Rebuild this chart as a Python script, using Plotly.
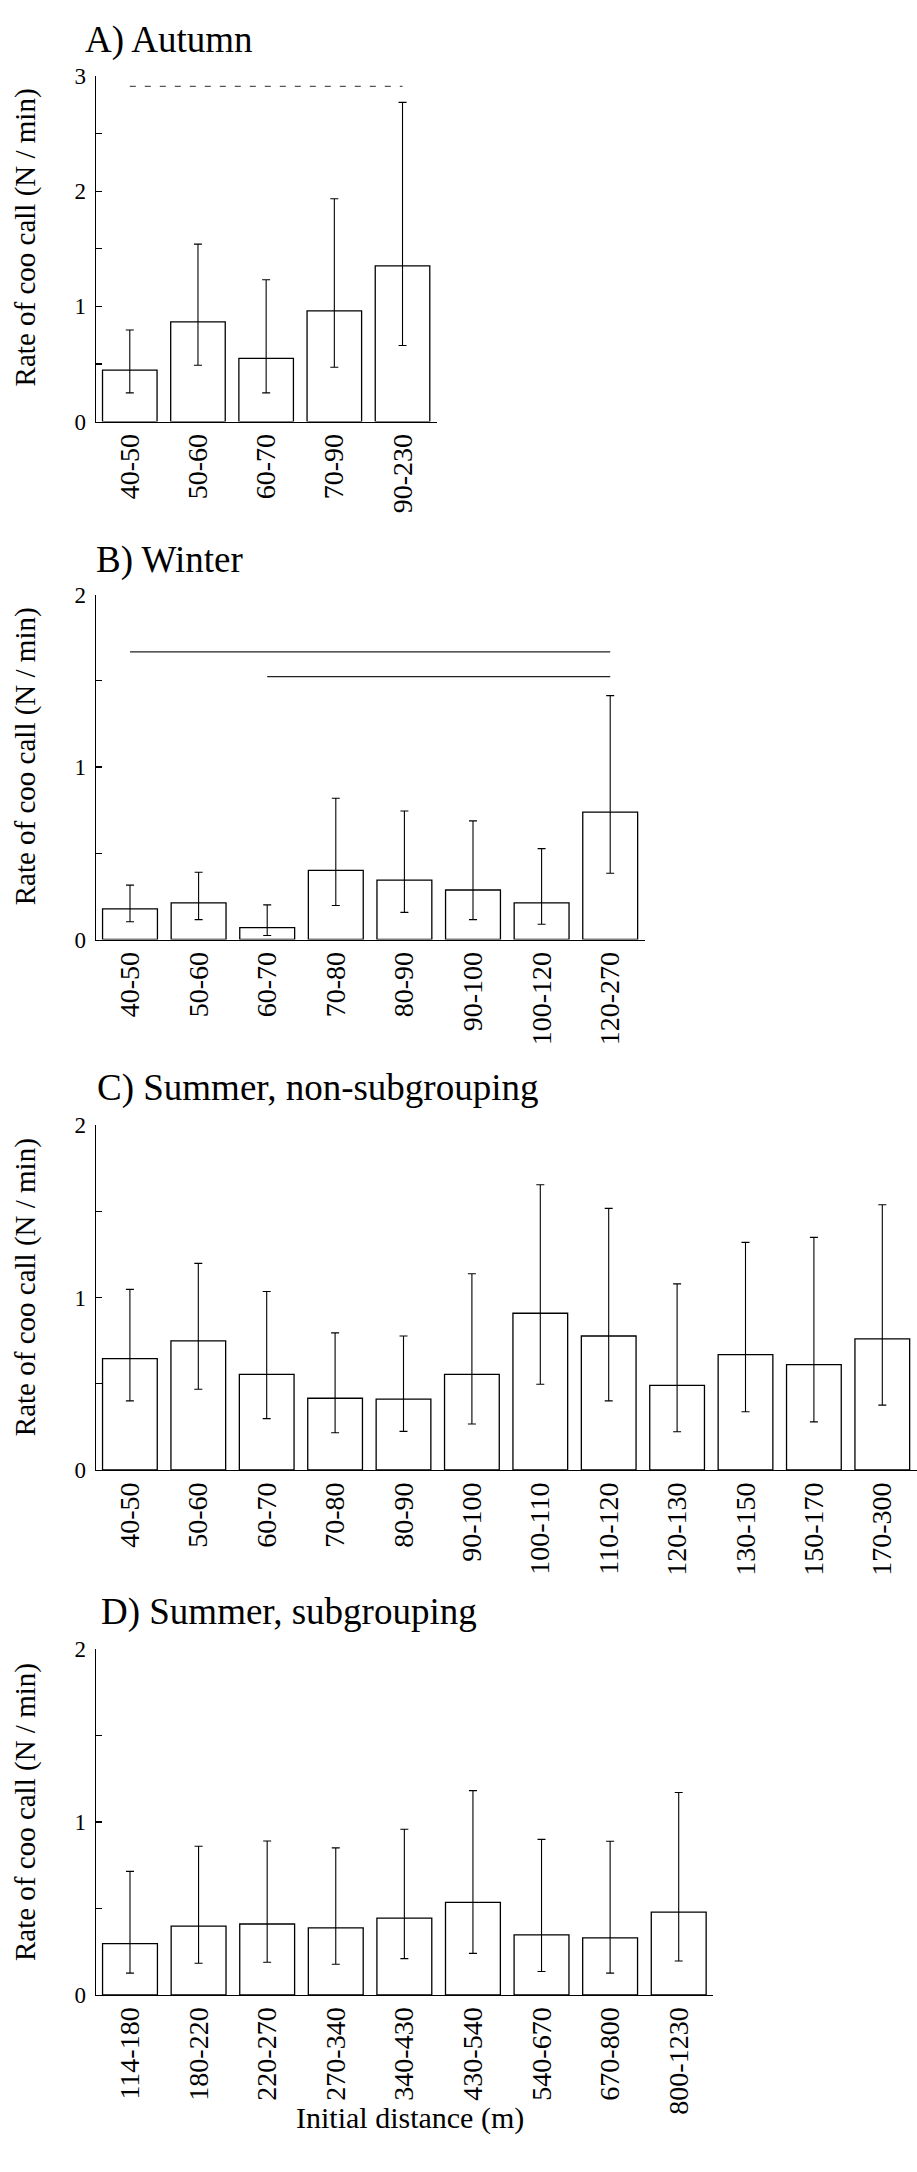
import plotly.graph_objects as go

# ---------------- data ----------------
cats_a = ["40-50", "50-60", "60-70", "70-90", "90-230"]
mean_a = [0.446, 0.866, 0.549, 0.960, 1.351]
hi_a = [0.794, 1.540, 1.231, 1.934, 2.771]
lo_a = [0.249, 0.489, 0.249, 0.471, 0.660]

cats_b = ["40-50", "50-60", "60-70", "70-80", "80-90", "90-100", "100-120", "120-270"]
mean_b = [0.178, 0.212, 0.069, 0.401, 0.344, 0.287, 0.212, 0.739]
hi_b = [0.315, 0.390, 0.201, 0.819, 0.745, 0.688, 0.527, 1.414]
lo_b = [0.103, 0.115, 0.023, 0.197, 0.157, 0.115, 0.088, 0.384]

cats_c = ["40-50", "50-60", "60-70", "70-80", "80-90", "90-100", "100-110",
          "110-120", "120-130", "130-150", "150-170", "170-300"]
mean_c = [0.646, 0.749, 0.554, 0.416, 0.411, 0.554, 0.909, 0.777, 0.491, 0.669, 0.611, 0.760]
hi_c = [1.047, 1.198, 1.035, 0.795, 0.777, 1.138, 1.654, 1.517, 1.079, 1.320, 1.349, 1.538]
lo_c = [0.401, 0.468, 0.298, 0.216, 0.224, 0.267, 0.497, 0.401, 0.222, 0.338, 0.279, 0.376]

cats_d = ["114-180", "180-220", "220-270", "270-340", "340-430", "430-540",
          "540-670", "670-800", "800-1230"]
mean_d = [0.297, 0.398, 0.410, 0.387, 0.444, 0.535, 0.347, 0.330, 0.478]
hi_d = [0.714, 0.859, 0.890, 0.850, 0.958, 1.181, 0.899, 0.888, 1.170]
lo_d = [0.126, 0.183, 0.189, 0.177, 0.210, 0.240, 0.135, 0.126, 0.196]

# significance brackets: (from category, to category, height)
sig_a = [("40-50", "90-230", 2.91)]
sig_b = [("40-50", "120-270", 1.668), ("60-70", "120-270", 1.524)]

panel_titles = ["A) Autumn", "B) Winter", "C) Summer, non-subgrouping", "D) Summer, subgrouping"]
y_title = "Rate of coo call (N / min)"
x_title = "Initial distance (m)"

# ---------------- layout geometry (pixels) ----------------
W, H = 917, 2172
FONT = "Liberation Serif"

panels = [
    dict(cats=cats_a, mean=mean_a, hi=hi_a, lo=lo_a, ymax=3, x0=95.7, x1=436.6, ytop=64.7, ybot=414.3,
         sig=sig_a, dash="6px,9px", tx=83, ty=28, yty=228),
    dict(cats=cats_b, mean=mean_b, hi=hi_b, lo=lo_b, ymax=2, x0=95.7, x1=644.5, ytop=589.3, ybot=938.3,
         sig=sig_b, dash="solid", tx=94, ty=554, yty=753),
    dict(cats=cats_c, mean=mean_c, hi=hi_c, lo=lo_c, ymax=2, x0=95.7, x1=916.5, ytop=1126, ybot=1475,
         sig=[], dash="solid", tx=95, ty=1089, yty=1290),
    dict(cats=cats_d, mean=mean_d, hi=hi_d, lo=lo_d, ymax=2, x0=95.7, x1=713, ytop=1656, ybot=2006,
         sig=[], dash="solid", tx=99, ty=1619, yty=1821),
]

fig = go.Figure()
annotations = []

for i, p in enumerate(panels, start=1):
    xa = "x" if i == 1 else f"x{i}"
    ya = "y" if i == 1 else f"y{i}"
    err_up = [h - m for h, m in zip(p["hi"], p["mean"])]
    err_dn = [m - l for m, l in zip(p["mean"], p["lo"])]
    fig.add_trace(go.Bar(
        x=p["cats"], y=p["mean"], xaxis=xa, yaxis=ya, width=0.8,
        marker=dict(color="white", line=dict(color="black", width=1.3)),
        error_y=dict(type="data", symmetric=False, array=err_up, arrayminus=err_dn,
                     color="black", thickness=1.1, width=4),
        showlegend=False, hoverinfo="skip",
    ))
    for (c0, c1, yv) in p["sig"]:
        fig.add_trace(go.Scatter(
            x=[c0, c1], y=[yv, yv], xaxis=xa, yaxis=ya, mode="lines",
            line=dict(color="#222222" if p["dash"] == "solid" else "#555555", width=1.3, dash=p["dash"]),
            showlegend=False, hoverinfo="skip",
        ))
    xkey = "xaxis" if i == 1 else f"xaxis{i}"
    ykey = "yaxis" if i == 1 else f"yaxis{i}"
    fig.update_layout(**{
        xkey: dict(domain=[p["x0"] / W, p["x1"] / W], anchor=ya, type="category",
                   range=[-0.5, len(p["cats"]) - 0.5], showline=True, linecolor="black", linewidth=1.2,
                   ticks="", tickangle=-90, showgrid=False, zeroline=False, fixedrange=True,
                   tickfont=dict(family=FONT, size=28, color="black")),
        ykey: dict(domain=[1 - p["ybot"] / H, 1 - p["ytop"] / H], anchor=xa,
                   range=[0, p["ymax"]], dtick=1, tick0=0, showline=True, linecolor="black", linewidth=1.2,
                   ticks="inside", ticklen=6, tickcolor="black", tickwidth=1.2, fixedrange=True,
                   minor=dict(dtick=0.5, ticks="inside", ticklen=6, tickcolor="black", tickwidth=1.2, showgrid=False),
                   showgrid=False, zeroline=False, ticklabelstandoff=4,
                   tickfont=dict(family=FONT, size=23, color="black")),
    })
    annotations.append(dict(text=panel_titles[i - 1], xref="paper", yref="paper",
                            x=p["tx"] / W, y=1 - p["ty"] / H, xanchor="left", yanchor="middle",
                            showarrow=False, font=dict(family=FONT, size=37, color="black")))
    annotations.append(dict(text=y_title, xref="paper", yref="paper", textangle=-90,
                            x=25 / W, y=1 - p["yty"] / H, xanchor="center", yanchor="middle",
                            showarrow=False, font=dict(family=FONT, size=29, color="black")))

annotations.append(dict(text=x_title, xref="paper", yref="paper",
                        x=410 / W, y=1 - 2131 / H, xanchor="center", yanchor="middle",
                        showarrow=False, font=dict(family=FONT, size=30, color="black")))

fig.update_layout(
    width=W, height=H, margin=dict(l=0, r=0, t=0, b=0),
    paper_bgcolor="white", plot_bgcolor="white",
    font=dict(family=FONT, color="black"),
    annotations=annotations, bargap=0.2,
)

fig.write_html("out.html", config={"displayModeBar": False, "staticPlot": True},
               post_script="document.body.style.margin='0px';document.body.style.overflow='hidden';")
